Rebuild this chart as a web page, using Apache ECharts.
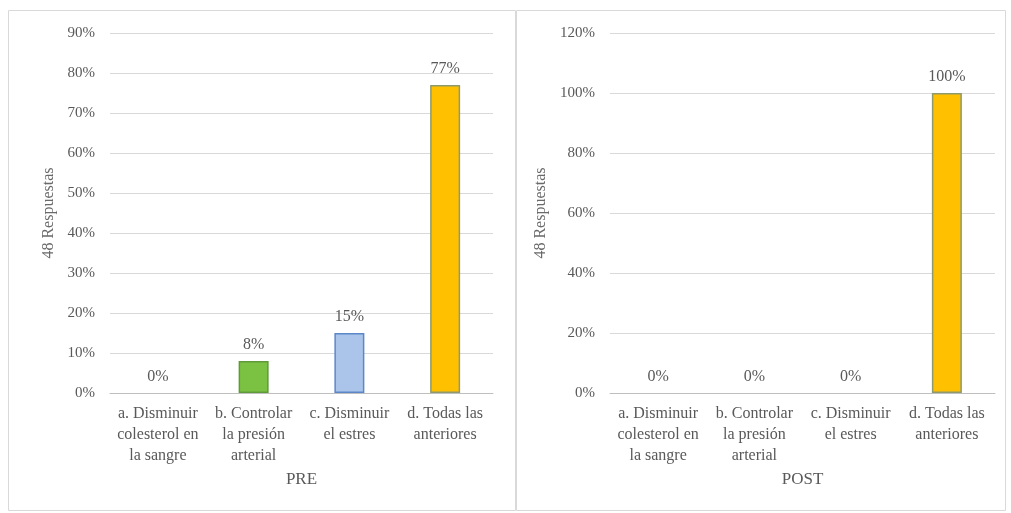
<!DOCTYPE html>
<html>
<head>
<meta charset="utf-8">
<script src="https://cdn.jsdelivr.net/npm/echarts@6/dist/echarts.min.js"></script>
<style>html,body{margin:0;padding:0;background:#fff}#c{width:1011px;height:513px}</style>
</head>
<body>
<div id="c"></div>
<script>
const categories = ["a. Disminuir\ncolesterol en\nla sangre", "b. Controlar\nla presión\narterial", "c. Disminuir\nel estres", "d. Todas las\nanteriores"];
const preValues = [0, 8, 15, 77];
const postValues = [0, 0, 0, 100];
const fills = ["#7cc242", "#7cc242", "#abc5ea", "#ffc000"];
const borders = ["#5e9a3a", "#5e9a3a", "#5b87c9", "#8f9a6b"];
const panelTitles = ["PRE", "POST"];
const yTitle = "48 Respuestas";

const font = "Liberation Serif";
const txt = "#595959";
function mkData(vals){
  return vals.map((v,i)=>({value:v, itemStyle:{color:fills[i], borderColor:borders[i], borderWidth: v === 0 ? 0 : 1.5}}));
}
function xAx(idx){
  return {type:'category', gridIndex:idx, data:categories,
    axisLine:{lineStyle:{color:'#bfbfbf'}}, axisTick:{show:false},
    axisLabel:{color:txt, fontFamily:font, fontSize:16, lineHeight:21, margin:10, interval:0},
    name:panelTitles[idx], nameLocation:'middle', nameGap:76,
    nameTextStyle:{color:txt, fontFamily:font, fontSize:17}};
}
function yAx(idx, max, interval, gap){
  return {type:'value', gridIndex:idx, min:0, max:max, interval:interval,
    axisLabel:{color:txt, fontFamily:font, fontSize:15, formatter:'{value}%', margin:15},
    splitLine:{lineStyle:{color:'#d9d9d9'}}, axisLine:{show:false}, axisTick:{show:false},
    name:yTitle, nameLocation:'middle', nameGap:gap,
    nameTextStyle:{color:'#6a6a6a', fontFamily:font, fontSize:16}};
}
const chart = echarts.init(document.getElementById('c'), null, {renderer:'canvas'});
chart.setOption({
  animation:false,
  graphic:[
    {type:'rect', shape:{x:8.5,y:10.5,width:507,height:500}, style:{fill:'none', stroke:'#d9d9d9', lineWidth:1}},
    {type:'rect', shape:{x:516.5,y:10.5,width:489,height:500}, style:{fill:'none', stroke:'#d9d9d9', lineWidth:1}}
  ],
  grid:[
    {left:110, right:518, top:33, bottom:120},
    {left:610, right:16, top:33, bottom:120}
  ],
  xAxis:[xAx(0), xAx(1)],
  yAxis:[yAx(0, 90, 10, 53), yAx(1, 120, 20, 61)],
  series:[
    {type:'bar', xAxisIndex:0, yAxisIndex:0, barWidth:30, data:mkData(preValues),
      label:{show:true, position:'top', distance:8, formatter:'{c}%', color:txt, fontFamily:font, fontSize:16}},
    {type:'bar', xAxisIndex:1, yAxisIndex:1, barWidth:30, data:mkData(postValues),
      label:{show:true, position:'top', distance:8, formatter:'{c}%', color:txt, fontFamily:font, fontSize:16}}
  ]
});
</script>
</body>
</html>
